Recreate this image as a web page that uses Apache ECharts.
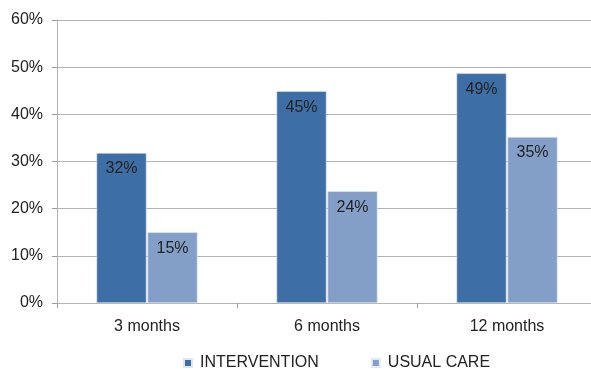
<!DOCTYPE html>
<html>
<head>
<meta charset="utf-8">
<script src="https://cdn.jsdelivr.net/npm/echarts@6/dist/echarts.min.js"></script>
<style>html,body{margin:0;padding:0;background:#fff;}#c{width:591px;height:369px;}</style>
</head>
<body>
<div id="c"></div>
<script>
const categories = ['3 months', '6 months', '12 months'];
const intervention = [31.8, 44.9, 48.7];
const usualCare = [15.0, 23.7, 35.2];
const seriesNames = ['INTERVENTION', 'USUAL CARE'];

const chart = echarts.init(document.getElementById('c'), null, {renderer: 'canvas'});
const font = 'Helvetica, Arial, "Liberation Sans", sans-serif';
const labelCfg = {
  show: true, position: 'insideTop', distance: 8,
  formatter: p => Math.round(p.value) + '%',
  color: '#222', fontSize: 16, fontFamily: font
};
chart.setOption({
  animation: false,
  grid: {left: 57, width: 540, top: 20, height: 283, containLabel: false, outerBoundsMode: 'none'},
  legend: {
    top: 355, left: 183, padding: 0, itemWidth: 8, itemHeight: 8, itemGap: 52,
    icon: 'rect',
    textStyle: {color: '#222', fontSize: 16, fontFamily: font, padding: [0, 0, 0, 3]},
    data: seriesNames
  },
  xAxis: {
    type: 'category', data: categories,
    axisLine: {lineStyle: {color: '#b4b4b4', width: 1}},
    axisTick: {show: true, length: 5, lineStyle: {color: '#9a9a9a'}},
    axisLabel: {color: '#222', fontSize: 16, fontFamily: font, margin: 16}
  },
  yAxis: {
    type: 'value', min: 0, max: 60, interval: 10,
    axisLine: {show: true, lineStyle: {color: '#b4b4b4'}},
    axisTick: {show: true, length: 5, lineStyle: {color: '#9a9a9a'}},
    splitLine: {lineStyle: {color: '#b4b4b4', width: 1}},
    axisLabel: {formatter: '{value}%', color: '#222', fontSize: 16, fontFamily: font, margin: 14}
  },
  series: [
    {name: seriesNames[0], type: 'bar', data: intervention, barWidth: 50, barGap: '2%',
     itemStyle: {color: '#3d6ea5', borderColor: '#dde6f1', borderWidth: 0.6}, label: labelCfg},
    {name: seriesNames[1], type: 'bar', data: usualCare, barWidth: 50,
     itemStyle: {color: '#839fc8', borderColor: '#e2e9f3', borderWidth: 0.6}, label: labelCfg}
  ]
});
</script>
</body>
</html>
